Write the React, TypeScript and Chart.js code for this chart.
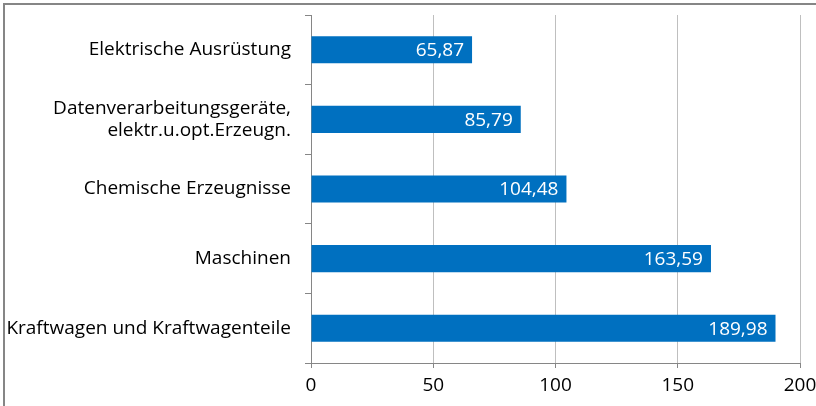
import React, { useEffect, useRef } from "react";
import { Chart, registerables } from "chart.js";

Chart.register(...registerables);

const categories: (string | string[])[] = [
  "Elektrische Ausrüstung",
  ["Datenverarbeitungsgeräte,", "elektr.u.opt.Erzeugn."],
  "Chemische Erzeugnisse",
  "Maschinen",
  "Kraftwagen und Kraftwagenteile",
];
const values: number[] = [65.87, 85.79, 104.48, 163.59, 189.98];
const xTicks: number[] = [0, 50, 100, 150, 200];

const FONT = "'Open Sans', sans-serif";
const SIZE = 19;

const framePlugin = {
  id: "frame",
  beforeDraw(chart: any) {
    const ctx = chart.ctx;
    ctx.save();
    ctx.fillStyle = "#ffffff";
    ctx.fillRect(0, 0, chart.width, chart.height);
    ctx.strokeStyle = "#868686";
    ctx.lineWidth = 2;
    ctx.beginPath();
    ctx.moveTo(4, chart.height + 5);
    ctx.lineTo(4, 4);
    ctx.lineTo(chart.width + 5, 4);
    ctx.stroke();
    ctx.restore();
  },
};

const labelPlugin = {
  id: "barLabels",
  afterDatasetsDraw(chart: any) {
    const ctx = chart.ctx;
    const meta = chart.getDatasetMeta(0);
    ctx.save();
    ctx.fillStyle = "#ffffff";
    ctx.font = `${SIZE}px ${FONT}`;
    ctx.textAlign = "right";
    ctx.textBaseline = "middle";
    meta.data.forEach((bar: any, i: number) => {
      const txt = values[i].toFixed(2).replace(".", ",");
      ctx.fillText(txt, bar.x - 8, bar.y + 1);
    });
    ctx.restore();
  },
};

export default function App() {
  const ref = useRef<HTMLCanvasElement>(null);
  useEffect(() => {
    document.body.style.margin = "0";
    const chart = new Chart(ref.current!, {
      type: "bar",
      data: {
        labels: categories,
        datasets: [
          {
            data: values,
            backgroundColor: "#0070C0",
            borderWidth: 0,
            barPercentage: 0.39,
            categoryPercentage: 1,
          },
        ],
      },
      options: {
        indexAxis: "y",
        responsive: false,
        animation: false,
        layout: { padding: { top: 15, right: 16, left: 0, bottom: 0 } },
        plugins: { legend: { display: false }, tooltip: { enabled: false } },
        scales: {
          x: {
            min: 0,
            max: 200,
            afterBuildTicks: (axis: any) => {
              axis.ticks = xTicks.map((v) => ({ value: v }));
            },
            afterFit: (axis: any) => {
              axis.height = 43;
              axis.paddingLeft = 0;
              axis.paddingRight = 0;
            },
            grid: {
              color: "#BFBFBF",
              lineWidth: 1,
              drawTicks: true,
              tickLength: 5,
              tickColor: "#868686",
            },
            border: { display: true, color: "#868686" },
            ticks: {
              color: "#000000",
              padding: 6,
              font: { family: FONT, size: SIZE },
            },
          },
          y: {
            afterFit: (axis: any) => {
              axis.width = 311;
              axis.paddingTop = 0;
              axis.paddingBottom = 0;
            },
            grid: {
              drawOnChartArea: false,
              drawTicks: true,
              tickLength: 6,
              color: "#868686",
              offset: true,
            },
            border: { display: true, color: "#868686" },
            ticks: {
              color: "#000000",
              padding: 14,
              font: { family: FONT, size: SIZE, lineHeight: 1.15 },
            },
          },
        },
      },
      plugins: [framePlugin, labelPlugin],
    });
    return () => chart.destroy();
  }, []);
  return (
    <div style={{ width: 816, height: 406 }}>
      <canvas ref={ref} width={816} height={406} />
    </div>
  );
}
